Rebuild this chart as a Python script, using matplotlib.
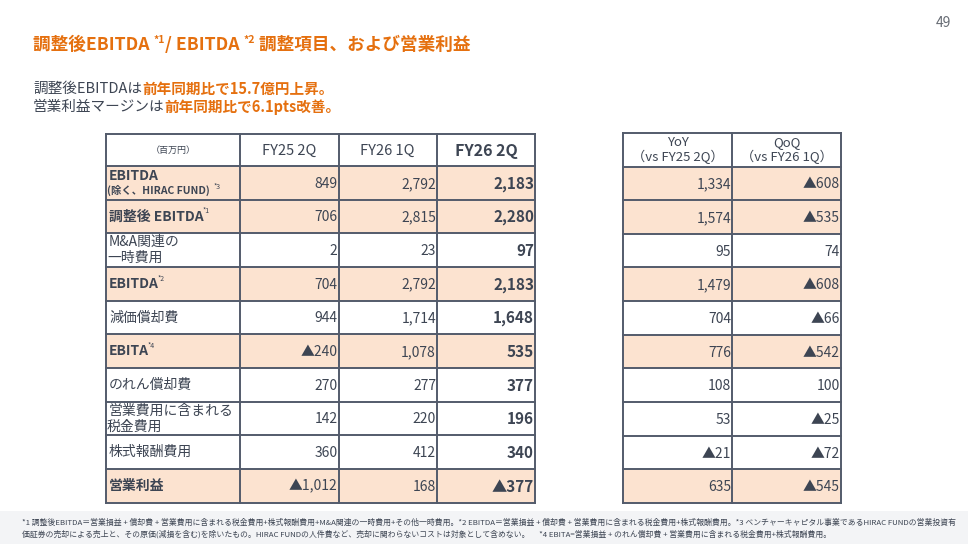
import matplotlib
matplotlib.use('Agg')
import matplotlib.pyplot as plt
from matplotlib.patches import Rectangle

plt.rcParams['font.family'] = ['Noto Sans CJK JP', 'DejaVu Sans']

# ---- data ----
row_labels = ['EBITDA', '調整後 EBITDA', 'M&A関連の\n一時費用', 'EBITDA', '減価償却費',
              'EBITA', 'のれん償却費', '営業費用に含まれる\n税金費用', '株式報酬費用', '営業利益']
row_notes = ['*3', '*1', '', '*2', '', '*4', '', '', '', '']
row_sub = ['(除く、HIRAC FUND)', '', '', '', '', '', '', '', '', '']
highlight = [True, True, False, True, False, True, False, False, False, True]
col_labels = ['FY25 2Q', 'FY26 1Q', 'FY26 2Q']
fy25_2q = [849, 706, 2, 704, 944, -240, 270, 142, 360, -1012]
fy26_1q = [2792, 2815, 23, 2792, 1714, 1078, 277, 220, 412, 168]
fy26_2q = [2183, 2280, 97, 2183, 1648, 535, 377, 196, 340, -377]
diff_labels = ['YoY\n（vs FY25 2Q）', 'QoQ\n（vs FY26 1Q）']
yoy = [1334, 1574, 95, 1479, 704, 776, 108, 53, -21, 635]
qoq = [-608, -535, 74, -608, -66, -542, 100, -25, -72, -545]

ORANGE = '#E5700F'
TEXT = '#3D4553'
PEACH = '#FCE3D0'
LINE = '#535B6B'


def fmt(v):
    s = '{:,}'.format(abs(v))
    return '▲' + s if v < 0 else s


fig = plt.figure(figsize=(9.68, 5.44), dpi=100)
ax = fig.add_axes([0, 0, 1, 1])
ax.set_xlim(0, 968)
ax.set_ylim(544, 0)
ax.axis('off')
fig.canvas.draw()
rend = fig.canvas.get_renderer()


def run_text(x, y, parts, size):
    # parts: (text, color, weight) or (text, color, weight, size, dy)
    for p in parts:
        txt, col, wt = p[:3]
        sz = p[3] if len(p) > 3 else size
        dy = p[4] if len(p) > 4 else 0
        t = ax.text(x, y + dy, txt, color=col, fontsize=sz, fontweight=wt, ha='left', va='center')
        bb = t.get_window_extent(rend)
        x = ax.transData.inverted().transform((bb.x1, bb.y0))[0]
    return x


# title
run_text(33, 45, [('調整後EBITDA ', ORANGE, 'bold'), ('*1', ORANGE, 'bold', 7.5, -5),
                  ('/ EBITDA ', ORANGE, 'bold'), ('*2', ORANGE, 'bold', 7.5, -5),
                  (' 調整項目、および営業利益', ORANGE, 'bold')], 12.7)

# subtitle
run_text(33, 89, [('調整後EBITDAは', TEXT, 'normal'), ('前年同期比で15.7億円上昇。', ORANGE, 'bold')], 10.5)
run_text(33, 107, [('営業利益マージンは', TEXT, 'normal'), ('前年同期比で6.1pts改善。', ORANGE, 'bold')], 10.5)

ax.text(943, 23, '49', color='#666b73', fontsize=10, ha='center', va='center')

# ---- left table ----
xs = [106, 240, 338.5, 437, 535]
top, head_h, row_h = 134, 32, 33.65
n = len(row_labels)
ys = [top, top + head_h] + [top + head_h + row_h * (i + 1) for i in range(n)]

for i in range(n):
    if highlight[i]:
        ax.add_patch(Rectangle((xs[0], ys[i + 1]), xs[-1] - xs[0], row_h, color=PEACH, lw=0, zorder=0))
for y in ys:
    ax.plot([xs[0], xs[-1]], [y, y], color=LINE, lw=1.4, zorder=2)
for x0 in xs:
    ax.plot([x0, x0], [ys[0], ys[-1]], color=LINE, lw=1.4, zorder=2)

hy = (ys[0] + ys[1]) / 2
ax.text((xs[0] + xs[1]) / 2, hy, '（百万円）', fontsize=6.5, color=TEXT, ha='center', va='center')
for j, lab in enumerate(col_labels):
    last = j == len(col_labels) - 1
    ax.text((xs[j + 1] + xs[j + 2]) / 2, hy + 1, lab, fontsize=11.5 if last else 10.5,
            fontweight='bold' if last else 'normal', color=TEXT, ha='center', va='center')

cols = [fy25_2q, fy26_1q, fy26_2q]
for i in range(n):
    yc = (ys[i + 1] + ys[i + 2]) / 2
    wt = 'bold' if highlight[i] else 'normal'
    if row_sub[i]:
        run_text(xs[0] + 3, yc - 7, [(row_labels[i], TEXT, wt)], 10)
        xe = run_text(xs[0] + 1, yc + 8, [(row_sub[i], TEXT, 'bold')], 7.5)
        ax.text(xe + 4, yc + 4, row_notes[i], fontsize=5, color=TEXT, va='center')
    else:
        lines = row_labels[i].split('\n')
        if len(lines) == 1:
            xe = run_text(xs[0] + 3, yc, [(row_labels[i], TEXT, wt)], 10)
            if row_notes[i]:
                ax.text(xe - 1, yc - 5, row_notes[i], fontsize=5, color=TEXT, va='center')
        else:
            run_text(xs[0] + 3, yc - 8, [(lines[0], TEXT, wt)], 10)
            run_text(xs[0] + 1, yc + 8, [(lines[1], TEXT, wt)], 10)
    for j, col in enumerate(cols):
        last = j == len(cols) - 1
        ax.text(xs[j + 2] - 1, yc + 1, fmt(col[i]), fontsize=11 if last else 10,
                fontweight='bold' if last else 'normal', color=TEXT, ha='right', va='center')

# ---- right table ----
rx = [623, 732, 841]
rtop, rhead = 133, 33.5
rys = [rtop, rtop + rhead] + [rtop + rhead + row_h * (i + 1) for i in range(n)]
for i in range(n):
    if highlight[i]:
        ax.add_patch(Rectangle((rx[0], rys[i + 1]), rx[-1] - rx[0], row_h, color=PEACH, lw=0, zorder=0))
for y in rys:
    ax.plot([rx[0], rx[-1]], [y, y], color=LINE, lw=1.4, zorder=2)
for x0 in rx:
    ax.plot([x0, x0], [rys[0], rys[-1]], color=LINE, lw=1.4, zorder=2)
for j, lab in enumerate(diff_labels):
    ax.text((rx[j] + rx[j + 1]) / 2, (rys[0] + rys[1]) / 2, lab, fontsize=9.5, color=TEXT,
            ha='center', va='center', linespacing=1.05)
for i in range(n):
    yc = (rys[i + 1] + rys[i + 2]) / 2
    for j, col in enumerate([yoy, qoq]):
        ax.text(rx[j + 1] - 1, yc + 1, fmt(col[i]), fontsize=10, color=TEXT, ha='right', va='center')

# ---- footer ----
ax.add_patch(Rectangle((0, 511), 968, 33, color='#F3F4F6', lw=0, zorder=0))
foot1 = ('*1 調整後EBITDA＝営業損益 + 償却費 + 営業費用に含まれる税金費用+株式報酬費用+M&A関連の一時費用+その他一時費用。'
         '*2 EBITDA＝営業損益 + 償却費 + 営業費用に含まれる税金費用+株式報酬費用。*3 ベンチャーキャピタル事業であるHIRAC FUNDの営業投資有')
foot2 = ('価証券の売却による売上と、その原価(減損を含む)を除いたもの。HIRAC FUNDの人件費など、売却に関わらないコストは対象として含めない。'
         '　 *4 EBITA=営業損益 + のれん償却費 + 営業費用に含まれる税金費用+株式報酬費用。')
ax.text(22, 523, foot1, fontsize=5.65, color=TEXT, va='center')
ax.text(22, 534, foot2, fontsize=5.65, color=TEXT, va='center')

fig.savefig('out.png', dpi=100)
